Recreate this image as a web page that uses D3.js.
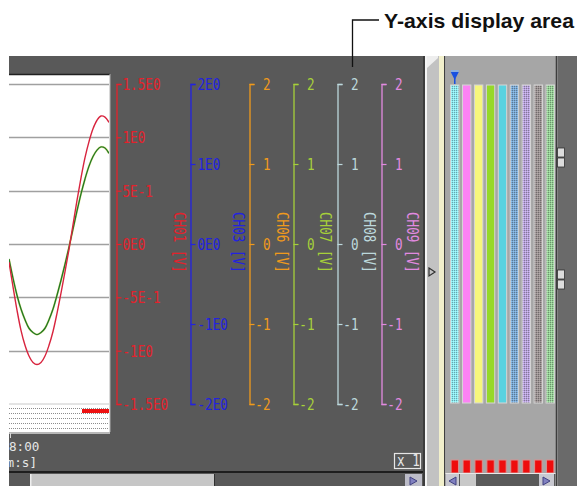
<!DOCTYPE html>
<html><head><meta charset="utf-8">
<script src="https://cdn.jsdelivr.net/npm/d3@7"></script>
<style>body{margin:0;background:#fff}svg{display:block}</style>
</head><body><svg id="c" width="577" height="486"></svg>
<script>
// ---------- data ----------
const sampleIndex = [0,1,2,3,4,5,6,7,8,9,10,11,12,13,14,15,16,17,18,19,20,21,22,23,24,25];
const redValues   = [-0.17,-0.40,-0.62,-0.81,-0.95,-1.05,-1.11,-1.13,-1.11,-1.05,-0.95,-0.82,-0.65,-0.46,-0.26,-0.05,0.18,0.41,0.62,0.81,0.96,1.08,1.16,1.20,1.19,1.14];
const greenValues = [-0.14,-0.32,-0.48,-0.61,-0.71,-0.79,-0.83,-0.85,-0.83,-0.79,-0.71,-0.61,-0.48,-0.34,-0.19,-0.03,0.14,0.31,0.47,0.61,0.73,0.82,0.88,0.91,0.90,0.85];
const channelNames  = ["CH01","CH03","CH06","CH07","CH08","CH09"];
const channelUnits  = ["[V]","[V]","[V]","[V]","[V]","[V]"];
const channelColors = ["#e4222c","#2222e0","#f09a1c","#a6d03a","#bcd8dc","#e28ae0"];
const redTicks      = [1.5,1,0.5,0,-0.5,-1,-1.5];
const redTickLabels = ["1.5E0","1E0","5E-1","0E0","-5E-1","-1E0","-1.5E0"];
const blueTicks      = [2,1,0,-1,-2];
const blueTickLabels = ["2E0","1E0","0E0","-1E0","-2E0"];
const plainTicks      = [2,1,0,-1,-2];
const plainTickLabels = ["2","1","0","-1","-2"];
const barIds     = ["1","2","3","4","5","6","7","8","9"];
const barColors  = ["#8ee6ee","#fc82f4","#f6f67c","#96d82a","#5ad2e0","#7ca8d0","#b6a2d6","#9c9494","#96cc96"];
const barDotted  = [true,false,false,false,false,true,true,true,true];
const timeLabel = "8:00";
const timeUnit  = "[h:m:s]";
const zoomLabel = "x 1";
const calloutText = "Y-axis display area";

// ---------- drawing ----------
const svg = d3.select("#c");
const defs = svg.append("defs");
const MONO = "'DejaVu Sans Mono', monospace";
const CW = 7.6;
function fit(sel, fs){
  sel.attr("font-family", MONO).attr("font-size", fs || 15)
     .attr("lengthAdjust","spacingAndGlyphs")
     .each(function(){ const t=d3.select(this).text(); d3.select(this).attr("textLength", t.length*CW); });
}

// panels
svg.append("rect").attr("x",9).attr("y",56).attr("width",416).attr("height",430).attr("fill","#595959");
// vertical scroll strip
svg.append("rect").attr("x",423).attr("y",56).attr("width",2).attr("height",430).attr("fill","#3c3c3c");
svg.append("rect").attr("x",425).attr("y",56).attr("width",14).attr("height",430).attr("fill","#c2c2c2");
svg.append("rect").attr("x",425).attr("y",56).attr("width",2).attr("height",430).attr("fill","#f4f4f4");
svg.append("polygon").attr("points","427,68 438,58 438,56 427,56").attr("fill","#eeeeee");
svg.append("rect").attr("x",439).attr("y",56).attr("width",5).attr("height",430).attr("fill","#f2f0cc");
svg.append("rect").attr("x",444).attr("y",56).attr("width",1.5).attr("height",430).attr("fill","#404040");
svg.append("path").attr("d","M429,268 L435,272 L429,276 Z").attr("fill","none").attr("stroke","#303030").attr("stroke-width",1.2);
// right panel
svg.append("rect").attr("x",445.5).attr("y",56).attr("width",110).attr("height",430).attr("fill","#a6a6a6");
svg.append("rect").attr("x",555.5).attr("y",56).attr("width",2).attr("height",430).attr("fill","#3e3e3e");
svg.append("rect").attr("x",557.5).attr("y",56).attr("width",19.5).attr("height",430).attr("fill","#6a6a6a");
[[148,158],[270,280]].forEach(([a,b])=>{
  [a,b].forEach(y=>svg.append("rect").attr("x",557.5).attr("y",y).attr("width",7).attr("height",9)
    .attr("fill","#dcdcdc").attr("stroke","#303030").attr("stroke-width",0.8));
});

// callout
svg.append("path").attr("d","M379,20 H352.5 V67").attr("fill","none").attr("stroke","#111").attr("stroke-width",1.3);
svg.append("text").attr("x",384).attr("y",28).attr("font-family","'Liberation Sans', Arial, sans-serif")
  .attr("font-weight","bold").attr("font-size",21).attr("fill","#111")
  .attr("textLength",190).attr("lengthAdjust","spacingAndGlyphs").text(calloutText);

// plot area
const px0 = 9, px1 = 109;
svg.append("rect").attr("x",px0).attr("y",74).attr("width",px1-px0+1).attr("height",358).attr("fill","#ffffff");
svg.append("line").attr("x1",px0).attr("x2",px1+1).attr("y1",74.5).attr("y2",74.5).attr("stroke","#202020").attr("stroke-width",1.5);
svg.append("line").attr("x1",px1+1).attr("x2",px1+1).attr("y1",74).attr("y2",432).attr("stroke","#b0b0b0");
const yRed = d3.scaleLinear().domain([-1.5,1.5]).range([404,84]);
const yCh  = d3.scaleLinear().domain([-2,2]).range([404,84]);
const xT   = d3.scaleLinear().domain([0,25]).range([px0,px1]);
// grid
svg.append("g").selectAll("line").data(redTicks.filter(v=>v>-1.5)).join("line")
  .attr("x1",px0).attr("x2",px1).attr("y1",d=>Math.round(yRed(d))+0.5).attr("y2",d=>Math.round(yRed(d))+0.5)
  .attr("stroke","#a0a0a0").attr("stroke-width",1.4);
svg.append("line").attr("x1",px0).attr("x2",px1).attr("y1",yRed(-1.5)).attr("y2",yRed(-1.5)).attr("stroke","#c8c8c8");
// dotted strip
svg.append("g").selectAll("line").data([408,413,418,423,428]).join("line")
  .attr("x1",px0).attr("x2",px1).attr("y1",d=>d+0.5).attr("y2",d=>d+0.5)
  .attr("stroke","#8c8c8c").attr("stroke-dasharray","1,1");
svg.append("rect").attr("x",82).attr("y",409).attr("width",27).attr("height",4).attr("fill","#ee1010");
svg.append("line").attr("x1",px0).attr("x2",px1+1).attr("y1",433).attr("y2",433).attr("stroke","#d8d8d8").attr("stroke-width",1.5);
svg.append("line").attr("x1",10.5).attr("x2",10.5).attr("y1",433).attr("y2",438).attr("stroke","#d8d8d8");

defs.append("clipPath").attr("id","plotclip").append("rect").attr("x",px0).attr("y",75).attr("width",px1-px0).attr("height",330);
const line = d3.line().x((d,i)=>xT(sampleIndex[i])).y(d=>yRed(d)).curve(d3.curveCatmullRom);
const gp = svg.append("g").attr("clip-path","url(#plotclip)");
gp.append("path").datum(greenValues).attr("d",line).attr("fill","none").attr("stroke","#e8e060").attr("stroke-width",2.2).attr("opacity",0.5);
gp.append("path").datum(greenValues).attr("d",line).attr("fill","none").attr("stroke","#247a22").attr("stroke-width",1.4);
gp.append("path").datum(redValues).attr("d",line).attr("fill","none").attr("stroke","#d8243e").attr("stroke-width",1.4);

// axes
const axisX = [116,190,249,293,337,381];
const labelX = [174,233,277,320,364,407];
function drawAxis(i, scale, ticks, labels, align){
  const col = channelColors[i];
  const ax = d3.axisRight(scale).tickValues(ticks).tickFormat((d,k)=>labels[k]).tickSize(5).tickSizeOuter(5).tickPadding(1);
  const g = svg.append("g").attr("transform",`translate(${axisX[i]+0.5},0)`).call(ax);
  g.select(".domain").attr("stroke",col).attr("stroke-width",1.3);
  g.selectAll(".tick line").attr("stroke",col).attr("stroke-width",1.2);
  const t = g.selectAll(".tick text").attr("fill",col).attr("dy","0.36em");
  if(align==="end"){ t.attr("text-anchor","end").attr("x",21); }
  else { t.attr("x", i===0 ? 6 : 7); }
  t.call(fit);
  const lab = svg.append("text").attr("transform",`translate(${labelX[i]},212) rotate(90)`)
    .attr("fill",col).text(channelNames[i]+" "+channelUnits[i]);
  lab.call(fit);
}
drawAxis(0, yRed, redTicks, redTickLabels, "start");
drawAxis(1, yCh, blueTicks, blueTickLabels, "start");
for(let i=2;i<6;i++) drawAxis(i, yCh, plainTicks, plainTickLabels, "end");

// time labels (unit clipped at panel edge, as in the screenshot)
defs.append("clipPath").attr("id","leftclip").append("rect").attr("x",9).attr("y",436).attr("width",200).attr("height",36);
const gt = svg.append("g").attr("clip-path","url(#leftclip)");
gt.append("text").attr("x",9).attr("y",451).attr("fill","#e6e6e6").text(timeLabel).call(fit, 13);
gt.append("text").attr("x",37).attr("y",467).attr("text-anchor","end").attr("fill","#e6e6e6").text(timeUnit).call(fit, 13);

// zoom box
svg.append("rect").attr("x",394.5).attr("y",453.5).attr("width",26).attr("height",15).attr("fill","none").attr("stroke","#e6e6e6").attr("stroke-width",1.2);
svg.append("text").attr("x",397).attr("y",466).attr("fill","#e6e6e6").text(zoomLabel).call(fit);

// bottom scrollbar of main panel
svg.append("rect").attr("x",9).attr("y",471).attr("width",414).attr("height",2).attr("fill","#1e1e1e");
svg.append("rect").attr("x",30).attr("y",474).attr("width",184).attr("height",12).attr("fill","#c6c6c6");
svg.append("rect").attr("x",30).attr("y",474).attr("width",1.5).attr("height",12).attr("fill","#eeeeee");
svg.append("rect").attr("x",214).attr("y",474).attr("width",1).attr("height",12).attr("fill","#303030");
svg.append("rect").attr("x",405).attr("y",474).attr("width",17).attr("height",12).attr("fill","#bcbcc8");
svg.append("path").attr("d","M410,477 L417,481 L410,485 Z").attr("fill","#8080c0").attr("stroke","#404080");

// right panel bars
const xb = d3.scaleBand().domain(barIds).range([450,555]).paddingInner(0.3).paddingOuter(0.05);
barColors.forEach((c,i)=>{
  if(barDotted[i]){
    const p = defs.append("pattern").attr("id","dot"+i).attr("width",2).attr("height",2).attr("patternUnits","userSpaceOnUse");
    p.append("rect").attr("width",2).attr("height",2).attr("fill",c);
    p.append("rect").attr("width",1).attr("height",1).attr("fill",d3.color(c).darker(0.9));
    p.append("rect").attr("x",1).attr("y",1).attr("width",1).attr("height",1).attr("fill",d3.color(c).brighter(0.4));
  }
});
const gb = svg.append("g");
gb.selectAll("rect.bar").data(barIds).join("rect").attr("class","bar")
  .attr("x",d=>xb(d)).attr("y",85).attr("width",xb.bandwidth()).attr("height",318)
  .attr("fill",(d,i)=>barDotted[i]?`url(#dot${i})`:barColors[i])
  .attr("stroke","#d6d6d6").attr("stroke-width",1);
gb.selectAll("rect.led").data(barIds).join("rect").attr("class","led")
  .attr("x",d=>xb(d)+0.5).attr("y",460).attr("width",xb.bandwidth()-1).attr("height",13)
  .attr("fill","#ee0d0d").attr("stroke","#d89090").attr("stroke-width",1);
// marker on first bar
const bx = xb(barIds[0]) + xb.bandwidth()/2;
svg.append("line").attr("x1",bx-4).attr("x2",bx+4).attr("y1",71).attr("y2",71).attr("stroke","#80b0f0").attr("stroke-width",1.5);
svg.append("path").attr("d",`M${bx-4},72 L${bx+4},72 L${bx},80 Z`).attr("fill","#1850e0");
svg.append("line").attr("x1",bx).attr("x2",bx).attr("y1",78).attr("y2",84).attr("stroke","#1850e0").attr("stroke-width",1.5);

// right panel scrollbar
svg.append("rect").attr("x",446).attr("y",474).attr("width",109).attr("height",12).attr("fill","#5a5a5a");
svg.append("rect").attr("x",446).attr("y",474).attr("width",13).attr("height",12).attr("fill","#c8c8d0");
svg.append("path").attr("d","M456,477 L449,481 L456,485 Z").attr("fill","#8080c0").attr("stroke","#404080");
svg.append("rect").attr("x",460).attr("y",474).attr("width",16).attr("height",12).attr("fill","#c8c8c8");
svg.append("rect").attr("x",539).attr("y",474).attr("width",15).attr("height",12).attr("fill","#c8c8d0");
svg.append("path").attr("d","M543,477 L550,481 L543,485 Z").attr("fill","#8080c0").attr("stroke","#404080");
svg.append("rect").attr("x",445.5).attr("y",473).attr("width",110).attr("height",1).attr("fill","#e8e8e8");
</script></body></html>
